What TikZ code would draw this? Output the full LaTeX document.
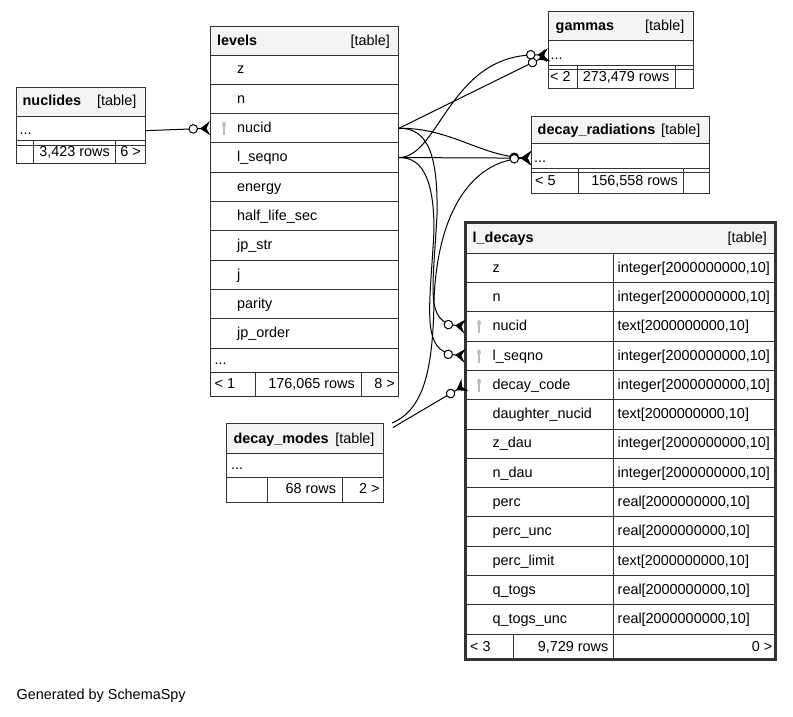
\documentclass[tikz,border=0pt]{standalone}
\usepackage{fontspec}
\setmainfont{Liberation Sans}
\usetikzlibrary{arrows.meta}
\definecolor{tline}{HTML}{333333}
\definecolor{headfill}{HTML}{F4F4F4}
\definecolor{keygray}{HTML}{BABABA}
\newcommand\tblfont{\fontsize{14.4}{17}\selectfont}
\tikzset{
  cell/.style={draw=tline, line width=1pt, inner sep=0pt, anchor=north west, minimum height=29.3},
  head/.style={cell, fill=headfill},
  txt/.style={inner sep=0pt, anchor=west, text height=8.5pt, text depth=0pt},
  rtxt/.style={txt, anchor=east},
  ttl/.style={txt, font=\tblfont\bfseries},
  fk/.style={line width=1pt, -{Circle[length=9.5pt, width=9.5pt, fill=white, sep=2pt] Stealth[reversed, length=10pt, width=14pt, inset=3.5pt]}},
  pkey/.pic={\fill[keygray] (0,-3.5) ellipse (1.8 and 3); \draw[keygray, line width=1.5pt] (0,-1) -- (0,7);}
}
% one row of a table: name, x, y top, width, indent, text
\newcommand\fld[6]{%
  \node[cell, minimum width=#4] (#1) at (#2,#3) {};
  \node[txt] at ([xshift=#5]#1.west) {#6};}
\begin{document}
\begin{tikzpicture}[x=1pt, y=-1pt, font=\tblfont]
  \useasboundingbox (0,0) rectangle (793,716);

  % nuclides
  \node[head, minimum width=129, minimum height=29] (nuclides) at (15.5,86.5) {};
  \node[ttl] at ([xshift=7]nuclides.west) {nuclides};
  \node[rtxt] at ([xshift=-9]nuclides.east) {[table]};
  \fld{nuclides-dots}{15.5}{115.5}{129}{4}{...}
  \node[cell, minimum width=17.5, minimum height=23.5] (nuclides-f1) at (15.5,139.5) {};
  \node[cell, minimum width=82, minimum height=23.5] (nuclides-f2) at (33,139.5) {};
  \node[cell, minimum width=29.5, minimum height=23.5] (nuclides-f3) at (115,139.5) {};
  \node[rtxt] at ([xshift=-6]nuclides-f2.east) {3,423 rows};
  \node[rtxt] at ([xshift=-4.5]nuclides-f3.east) {6 >};

  % levels
  \node[head, minimum width=188, minimum height=28.5] (levels) at (210,26) {};
  \node[ttl] at ([xshift=7]levels.west) {levels};
  \node[rtxt] at ([xshift=-9]levels.east) {[table]};
  \fld{levels-z}{210}{54.5}{188}{27}{z}
  \fld{levels-n}{210}{83.8}{188}{27}{n}
  \fld{levels-nucid}{210}{113.1}{188}{27}{nucid}
  \fld{levels-lseqno}{210}{142.4}{188}{27}{l\_seqno}
  \fld{levels-energy}{210}{171.7}{188}{27}{energy}
  \fld{levels-hl}{210}{201.0}{188}{27}{half\_life\_sec}
  \fld{levels-jpstr}{210}{230.3}{188}{27}{jp\_str}
  \fld{levels-j}{210}{259.6}{188}{27}{j}
  \fld{levels-parity}{210}{288.9}{188}{27}{parity}
  \fld{levels-jporder}{210}{318.2}{188}{27}{jp\_order}
  \pic at ([xshift=14]levels-nucid.west) {pkey};
  \node[cell, minimum width=188, minimum height=24] (levels-dots) at (210,347.5) {};
  \node[txt] at ([xshift=4.5]levels-dots.west) {...};
  \node[cell, minimum width=45, minimum height=24] (levels-f1) at (210,371.5) {};
  \node[cell, minimum width=106, minimum height=24] (levels-f2) at (255,371.5) {};
  \node[cell, minimum width=37, minimum height=24] (levels-f3) at (361,371.5) {};
  \node[txt] at ([xshift=4.5]levels-f1.west) {< 1};
  \node[rtxt] at ([xshift=-7]levels-f2.east) {176,065 rows};
  \node[rtxt] at ([xshift=-4]levels-f3.east) {8 >};

  % gammas
  \node[head, minimum width=145, minimum height=29] (gammas) at (547.5,11) {};
  \node[ttl] at ([xshift=8]gammas.west) {gammas};
  \node[rtxt] at ([xshift=-9]gammas.east) {[table]};
  \fld{gammas-dots}{547.5}{40}{145}{3}{...}
  \node[cell, minimum width=29.5, minimum height=23] (gammas-f1) at (547.5,65) {};
  \node[cell, minimum width=98, minimum height=23] (gammas-f2) at (577,65) {};
  \node[cell, minimum width=17.5, minimum height=23] (gammas-f3) at (675,65) {};
  \node[txt] at ([xshift=2.5]gammas-f1.west) {< 2};
  \node[rtxt] at ([xshift=-6.5]gammas-f2.east) {273,479 rows};

  % decay_radiations
  \node[head, minimum width=178, minimum height=27] (radiations) at (531,116) {};
  \node[ttl] at ([xshift=6.5]radiations.west) {decay\_radiations};
  \node[rtxt] at ([xshift=-9.5]radiations.east) {[table]};
  \fld{radiations-dots}{531}{143}{178}{3}{...}
  \node[cell, minimum width=47, minimum height=25] (radiations-f1) at (531,168) {};
  \node[cell, minimum width=105, minimum height=25] (radiations-f2) at (578,168) {};
  \node[cell, minimum width=26, minimum height=25] (radiations-f3) at (683,168) {};
  \node[txt] at ([xshift=4]radiations-f1.west) {< 5};
  \node[rtxt] at ([xshift=-6]radiations-f2.east) {156,558 rows};

  % decay_modes
  \node[head, minimum width=156.7, minimum height=30] (modes) at (226,423.3) {};
  \node[ttl] at ([xshift=7.3]modes.west) {decay\_modes};
  \node[rtxt] at ([xshift=-9]modes.east) {[table]};
  \node[cell, minimum width=156.7, minimum height=23.4] (modes-dots) at (226,453.3) {};
  \node[txt] at ([xshift=5]modes-dots.west) {...};
  \node[cell, minimum width=40.7, minimum height=25] (modes-f1) at (226,476.7) {};
  \node[cell, minimum width=75, minimum height=25] (modes-f2) at (266.7,476.7) {};
  \node[cell, minimum width=41, minimum height=25] (modes-f3) at (341.7,476.7) {};
  \node[rtxt] at ([xshift=-6.5]modes-f2.east) {68 rows};
  \node[rtxt] at ([xshift=-4]modes-f3.east) {2 >};
  \coordinate (modes-out1) at (392,423);
  \coordinate (modes-out2) at (393,427.5);

  % l_decays
  \node[head, minimum width=310, minimum height=30.7] (ldecays) at (465,222) {};
  \node[ttl] at ([xshift=7.5]ldecays.west) {l\_decays};
  \node[rtxt] at ([xshift=-9]ldecays.east) {[table]};
  \fld{ldecays-z}{465}{252.7}{148}{27.5}{z}
  \fld{ldecays-n}{465}{282.0}{148}{27.5}{n}
  \fld{ldecays-nucid}{465}{311.3}{148}{27.5}{nucid}
  \fld{ldecays-lseqno}{465}{340.6}{148}{27.5}{l\_seqno}
  \fld{ldecays-code}{465}{369.9}{148}{27.5}{decay\_code}
  \fld{ldecays-daughter}{465}{399.2}{148}{27.5}{daughter\_nucid}
  \fld{ldecays-zdau}{465}{428.5}{148}{27.5}{z\_dau}
  \fld{ldecays-ndau}{465}{457.8}{148}{27.5}{n\_dau}
  \fld{ldecays-perc}{465}{487.1}{148}{27.5}{perc}
  \fld{ldecays-percunc}{465}{516.4}{148}{27.5}{perc\_unc}
  \fld{ldecays-perclimit}{465}{545.7}{148}{27.5}{perc\_limit}
  \fld{ldecays-qtogs}{465}{575.0}{148}{27.5}{q\_togs}
  \fld{ldecays-qtogsunc}{465}{604.3}{148}{27.5}{q\_togs\_unc}
  \fld{ldecays-z-t}{613}{252.7}{162}{4.5}{integer[2000000000,10]}
  \fld{ldecays-n-t}{613}{282.0}{162}{4.5}{integer[2000000000,10]}
  \fld{ldecays-nucid-t}{613}{311.3}{162}{4.5}{text[2000000000,10]}
  \fld{ldecays-lseqno-t}{613}{340.6}{162}{4.5}{integer[2000000000,10]}
  \fld{ldecays-code-t}{613}{369.9}{162}{4.5}{integer[2000000000,10]}
  \fld{ldecays-daughter-t}{613}{399.2}{162}{4.5}{text[2000000000,10]}
  \fld{ldecays-zdau-t}{613}{428.5}{162}{4.5}{integer[2000000000,10]}
  \fld{ldecays-ndau-t}{613}{457.8}{162}{4.5}{integer[2000000000,10]}
  \fld{ldecays-perc-t}{613}{487.1}{162}{4.5}{real[2000000000,10]}
  \fld{ldecays-percunc-t}{613}{516.4}{162}{4.5}{real[2000000000,10]}
  \fld{ldecays-perclimit-t}{613}{545.7}{162}{4.5}{text[2000000000,10]}
  \fld{ldecays-qtogs-t}{613}{575.0}{162}{4.5}{real[2000000000,10]}
  \fld{ldecays-qtogsunc-t}{613}{604.3}{162}{4.5}{real[2000000000,10]}
  \pic at ([xshift=14]ldecays-nucid.west) {pkey};
  \pic at ([xshift=14]ldecays-lseqno.west) {pkey};
  \pic at ([xshift=14]ldecays-code.west) {pkey};
  \node[cell, minimum width=48, minimum height=25.9] (ldecays-f1) at (465,633.6) {};
  \node[cell, minimum width=100, minimum height=25.9] (ldecays-f2) at (513,633.6) {};
  \node[cell, minimum width=162, minimum height=25.9] (ldecays-f3) at (613,633.6) {};
  \node[txt] at ([xshift=5]ldecays-f1.west) {< 3};
  \node[rtxt] at ([xshift=-5.5]ldecays-f2.east) {9,729 rows};
  \node[rtxt] at ([xshift=-3.5]ldecays-f3.east) {0 >};
  \draw[tline, line width=3pt] (465,222) rectangle (775,659.5);

  % foreign keys
  \draw[fk] (nuclides-dots.east) -- (levels-nucid.west);
  \draw[fk] (levels-nucid.east) -- (gammas-dots.west);
  \draw[fk] (levels-lseqno.east) .. controls (440,157) and (450,52.5) .. (gammas-dots.west);
  \draw[fk] (levels-nucid.east) .. controls (450,127.75) and (480,155.5) .. (radiations-dots.west);
  \draw[fk] (levels-lseqno.east) -- (radiations-dots.west);
  \draw[fk] (modes-out1) .. controls (422,410) and (433,375) .. (434,300) .. controls (438,200) and (480,160) .. (radiations-dots.west);
  \draw[fk] (modes-out2) -- (ldecays-code.west);
  \draw[fk] (levels-nucid.east) .. controls (430,127.75) and (438,160) .. (437,215) .. controls (433,290) and (425,322) .. (ldecays-nucid.west);
  \draw[fk] (levels-lseqno.east) .. controls (425,157) and (434,185) .. (434,230) .. controls (430,310) and (420,352) .. (ldecays-lseqno.west);

  \node[txt] (credit) at (16.5,695) {Generated by SchemaSpy};
\end{tikzpicture}
\end{document}
